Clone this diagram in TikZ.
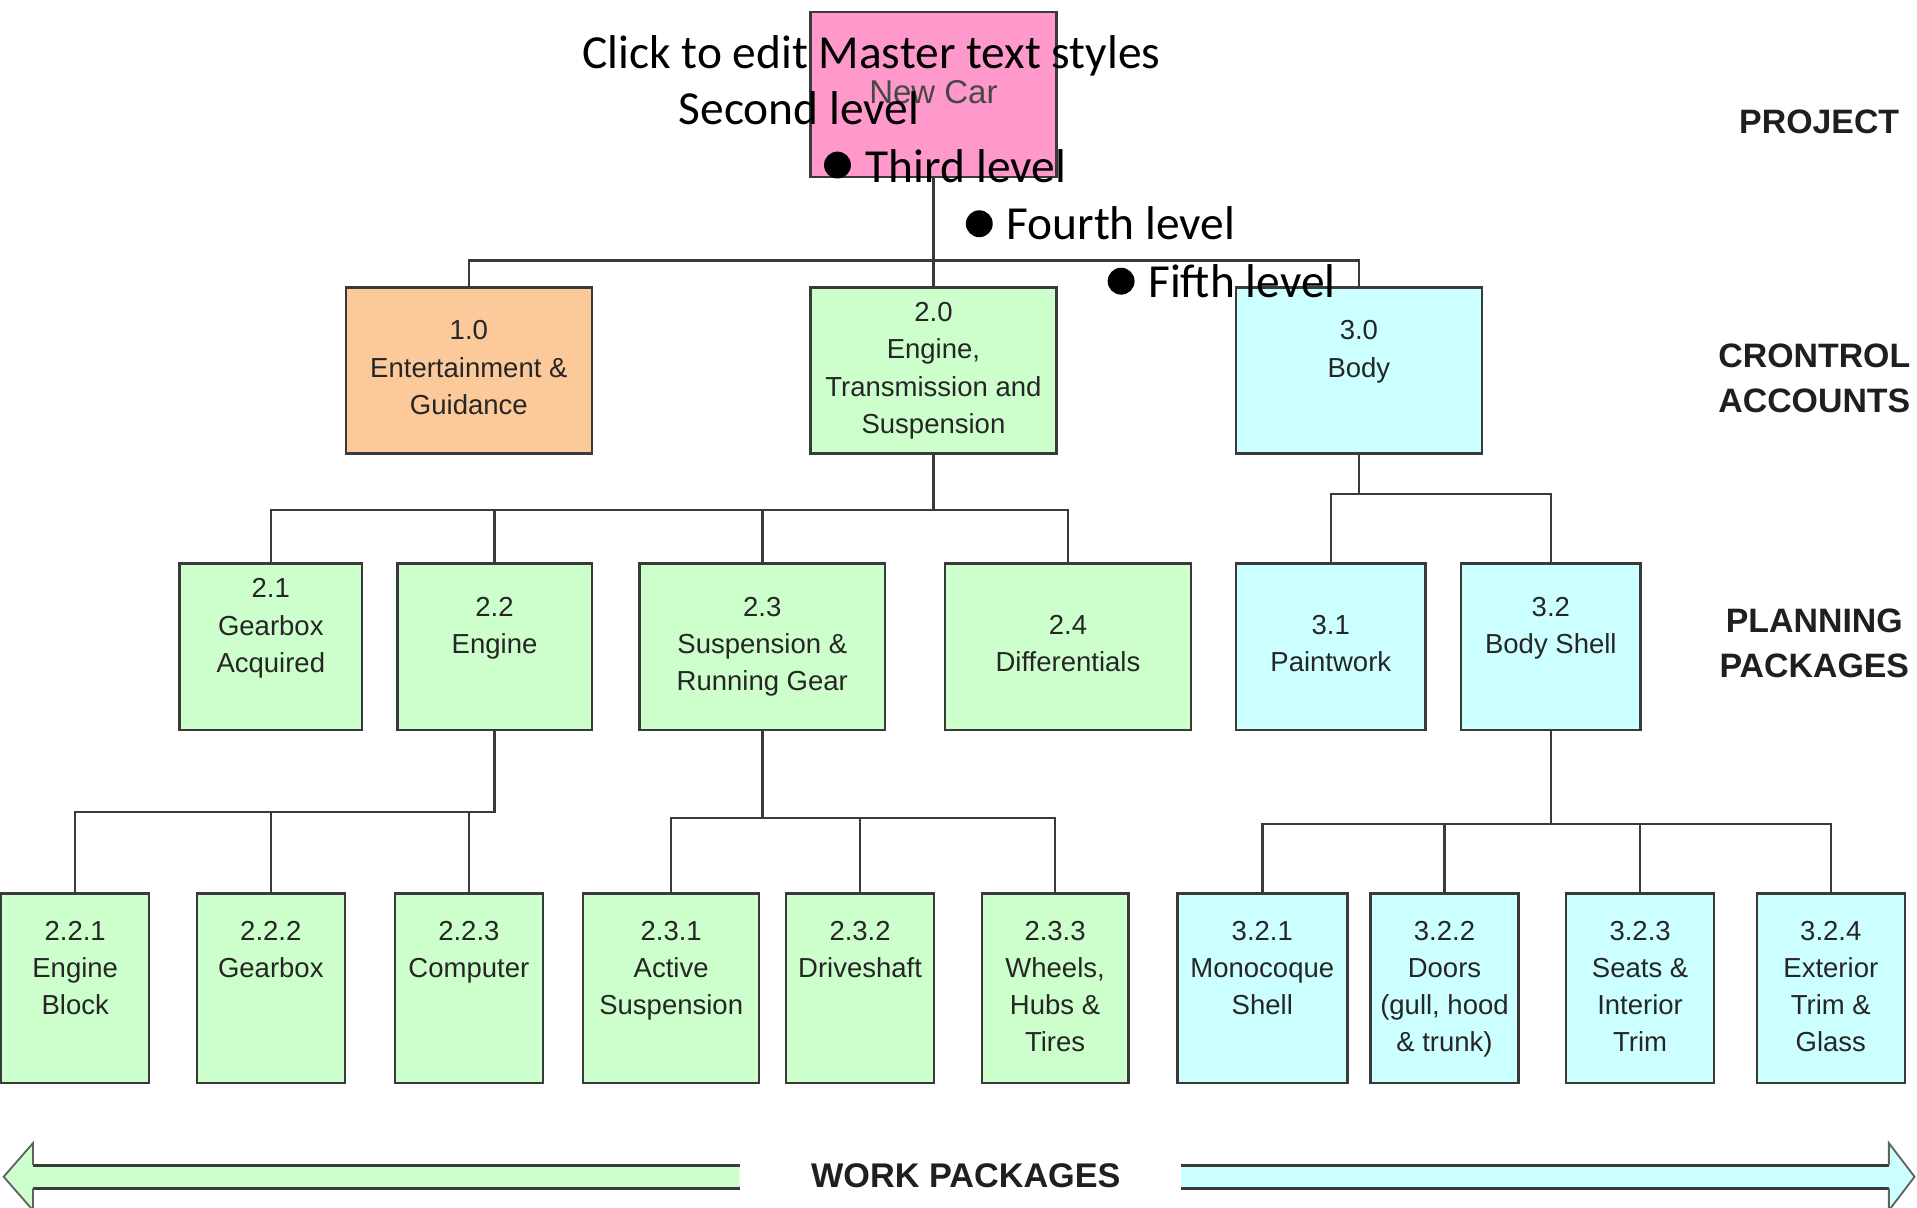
\documentclass[tikz,border=0pt]{standalone}
\usepackage{fontspec}
\setmainfont{Liberation Sans}
\newfontfamily\calib{Carlito}
\usetikzlibrary{calc}

\definecolor{edge}{HTML}{3A3A3A}
\definecolor{pinkfill}{HTML}{FF99CC}
\definecolor{orangefill}{HTML}{FCC99A}
\definecolor{greenfill}{HTML}{CCFFCC}
\definecolor{cyanfill}{HTML}{CCFFFF}
\definecolor{ink}{HTML}{262626}

% box with its caption: name, fill, centre x, centre y, width, height, caption top, caption
\newcommand\wbsbox[8]{%
  \node[wbs, fill=#2, minimum width=#5pt, minimum height=#6pt] (#1) at (#3,#4) {};
  \node[lbl] (#1t) at (#3,#7) {#8};}

\begin{document}
\begin{tikzpicture}[x=1pt,y=-1pt,
  wbs/.style={draw=edge, line width=2pt, inner sep=0pt, rectangle},
  lbl/.style={anchor=north, inner sep=0pt, align=center, text=ink,
              font=\fontsize{22.5}{30.5}\selectfont},
  conn/.style={draw=edge, line width=2pt},
  tier/.style={align=center, inner sep=0pt, text=black!88,
               font=\bfseries\fontsize{27.7}{37}\selectfont},
  ovl/.style={anchor=base west, inner sep=0pt, text=black,
              font=\calib\fontsize{38.8}{46.8}\selectfont},
  bulletdot/.style={circle, fill=black, inner sep=0pt, minimum size=22pt},
  arrowedge/.style={draw=edge, line width=2.5pt},
  headedge/.style={draw=edge!80, line width=1.5pt, line join=miter},
]
\clip (0,0) rectangle (1568,988);

% project level
\node[wbs, fill=pinkfill, minimum width=201pt, minimum height=135pt] (pj) at (763.5,77.5) {};
\node[lbl, text=black!72, font=\fontsize{27}{30}\selectfont] (pjt) at (763.5,65.5) {New Car};

% control accounts
\wbsbox{ca1}{orangefill}{383.5}{303}{201}{136}{262}{1.0\\Entertainment \&\\Guidance}
\wbsbox{ca2}{greenfill}{763.5}{303}{201}{136}{247}{2.0\\Engine,\\Transmission and\\Suspension}
\wbsbox{ca3}{cyanfill}{1111.5}{303}{201}{136}{262}{3.0\\Body}

% planning packages
\wbsbox{pp21}{greenfill}{221.5}{529}{149}{136}{473}{2.1\\Gearbox\\Acquired}
\wbsbox{pp22}{greenfill}{404.5}{529}{159}{136}{488}{2.2\\Engine}
\wbsbox{pp23}{greenfill}{623.5}{529}{201}{136}{488}{2.3\\Suspension \&\\Running Gear}
\wbsbox{pp24}{greenfill}{873.5}{529}{201}{136}{503}{2.4\\Differentials}
\wbsbox{pp31}{cyanfill}{1088.5}{529}{155}{136}{503}{3.1\\Paintwork}
\wbsbox{pp32}{cyanfill}{1268.5}{529}{147}{136}{488}{3.2\\Body Shell}

% work packages
\wbsbox{wp221}{greenfill}{61.5}{808.5}{121}{155}{753}{2.2.1\\Engine\\Block}
\wbsbox{wp222}{greenfill}{221.5}{808.5}{121}{155}{753}{2.2.2\\Gearbox}
\wbsbox{wp223}{greenfill}{383.5}{808.5}{121}{155}{753}{2.2.3\\Computer}
\wbsbox{wp231}{greenfill}{549}{808.5}{144}{155}{753}{2.3.1\\Active\\Suspension}
\wbsbox{wp232}{greenfill}{703.5}{808.5}{121}{155}{753}{2.3.2\\Driveshaft}
\wbsbox{wp233}{greenfill}{863}{808.5}{120}{155}{753}{2.3.3\\Wheels,\\Hubs \&\\Tires}
\wbsbox{wp321}{cyanfill}{1032.5}{808.5}{139}{155}{753}{3.2.1\\Monocoque\\Shell}
\wbsbox{wp322}{cyanfill}{1181.5}{808.5}{121}{155}{753}{3.2.2\\Doors\\(gull, hood\\\& trunk)}
\wbsbox{wp323}{cyanfill}{1341.5}{808.5}{121}{155}{753}{3.2.3\\Seats \&\\Interior\\Trim}
\wbsbox{wp324}{cyanfill}{1497.5}{808.5}{121}{155}{753}{3.2.4\\Exterior\\Trim \&\\Glass}

% tree connectors
\foreach \c in {ca1,ca2,ca3} \draw[conn] (pj.south) -- ++(0,67) -| (\c.north);
\foreach \c in {pp21,pp22,pp23,pp24} \draw[conn] (ca2.south) -- ++(0,45) -| (\c.north);
\foreach \c in {pp31,pp32} \draw[conn] (ca3.south) -- ++(0,32) -| (\c.north);
\foreach \c in {wp221,wp222,wp223} \draw[conn] (pp22.south) -- ++(0,66) -| (\c.north);
\foreach \c in {wp231,wp232,wp233} \draw[conn] (pp23.south) -- ++(0,71) -| (\c.north);
\foreach \c in {wp321,wp322,wp323,wp324} \draw[conn] (pp32.south) -- ++(0,76) -| (\c.north);

% level names on the right
\node[tier] (tproj) at (1488,100) {PROJECT};
\node[tier] (tctrl) at (1484,309.5) {CRONTROL\\ACCOUNTS};
\node[tier] (tplan) at (1484,526.5) {PLANNING\\PACKAGES};

% work package band along the bottom
\fill[greenfill] (605,953) -- (27,953) -- (27,935) -- (3,962.5) -- (27,990) -- (27,972) -- (605,972) -- cycle;
\draw[arrowedge] (605,953) -- (27,953);
\draw[arrowedge] (605,972) -- (27,972);
\draw[headedge] (27,953) -- (27,935) -- (3,962.5) -- (27,990) -- (27,972);
\fill[cyanfill] (966,953) -- (1545,953) -- (1545,935) -- (1566,962.5) -- (1545,990) -- (1545,972) -- (966,972) -- cycle;
\draw[arrowedge] (966,953) -- (1545,953);
\draw[arrowedge] (966,972) -- (1545,972);
\draw[headedge] (1545,953) -- (1545,935) -- (1566,962.5) -- (1545,990) -- (1545,972);
\node[tier, font=\bfseries\fontsize{28}{30}\selectfont] (twork) at (790,962) {WORK PACKAGES};

% placeholder outline text on top
\node[ovl] (m1) at (476,56) {Click to edit Master text styles};
\node[ovl] (m2) at (555,102) {Second level};
\node[bulletdot] (b3) at (685,135) {};
\node[ovl] (m3) at (708,149.5) {Third level};
\node[bulletdot] (b4) at (801,183) {};
\node[ovl] (m4) at (823,196) {Fourth level};
\node[bulletdot] (b5) at (917,230) {};
\node[ovl] (m5) at (939,243) {Fifth level};
\end{tikzpicture}
\end{document}
